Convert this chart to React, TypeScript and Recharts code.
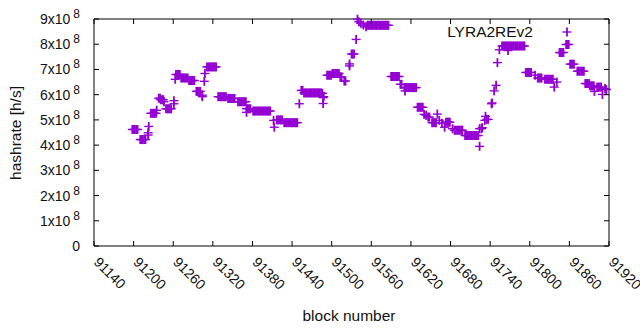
import { ReferenceArea, Scatter, ScatterChart, XAxis, YAxis } from 'recharts'

const SERIES = 'LYRA2REv2'
const COLOR = '#9400d3'

// block numbers and hashrate (in units of 10^8 h/s)
const blocks = [
  91198, 91200, 91202, 91204, 91206, 91210, 91212, 91214, 91216, 91218, 91222, 91222, 91223,
  91226, 91228, 91230, 91232, 91234, 91235, 91238, 91240, 91241, 91243, 91245, 91246,
  91249, 91251, 91253, 91255, 91257, 91261, 91261, 91263, 91264, 91266, 91268, 91270,
  91272, 91274, 91276, 91278, 91280, 91282, 91284, 91286, 91288, 91290, 91292,
  91295, 91297, 91299, 91301, 91304, 91304, 91307, 91308,
  91311, 91313, 91315, 91317, 91319, 91321, 91323, 91325,
  91328, 91330, 91332, 91334, 91336, 91338, 91340,
  91343, 91345, 91347, 91349, 91351, 91353,
  91358, 91360, 91362, 91364, 91366, 91368, 91370,
  91371, 91371, 91373, 91375, 91377,
  91381, 91383, 91385, 91387, 91389, 91391, 91393, 91395, 91397, 91399, 91401, 91403, 91405, 91407,
  91412, 91413, 91417, 91419, 91421, 91423, 91425,
  91428, 91430, 91432, 91434, 91436, 91438, 91440, 91442, 91444, 91446, 91448,
  91451, 91454, 91456,
  91458, 91460, 91462, 91464, 91466, 91468, 91470, 91472, 91474, 91476, 91478, 91480, 91482, 91484,
  91486, 91487, 91487, 91488,
  91493, 91495, 91497, 91499, 91501, 91503, 91505, 91507, 91509, 91511,
  91513, 91515, 91519, 91521, 91527, 91527, 91530, 91532, 91534, 91537,
  91539, 91541, 91544, 91548, 91552,
  91554, 91556, 91558, 91560, 91562, 91564, 91566, 91568, 91570, 91572, 91574, 91576, 91578, 91580, 91582, 91584, 91586,
  91590, 91592, 91594, 91596, 91598, 91600, 91602,
  91604, 91606, 91611,
  91610, 91612, 91614, 91616, 91618, 91620, 91622, 91624, 91626, 91628,
  91630, 91632, 91634, 91636, 91638,
  91640, 91643, 91646, 91648,
  91652, 91654, 91656, 91658, 91660, 91663, 91667, 91671,
  91673, 91675, 91677, 91679, 91683,
  91686, 91688, 91690, 91692, 91694, 91696, 91698,
  91702, 91704, 91706, 91708, 91710, 91712, 91714, 91716, 91718, 91720, 91722,
  91724, 91724, 91727, 91728, 91732, 91733, 91735, 91737,
  91742, 91743, 91746, 91749, 91751, 91754,
  91758, 91760, 91762, 91764, 91766, 91768, 91770, 91772, 91774, 91776, 91778, 91780, 91782, 91784, 91786, 91788, 91790, 91792,
  91767,
  91794, 91796, 91798, 91800, 91802, 91808,
  91812, 91814, 91816, 91818, 91823, 91825, 91827, 91829, 91831, 91833, 91835, 91837, 91841,
  91845, 91847, 91849, 91851, 91855, 91857, 91859,
  91861, 91863, 91865, 91867, 91872, 91874, 91876, 91878, 91880, 91882,
  91884, 91886, 91888, 91890, 91891, 91893, 91895, 91897, 91898,
  91902, 91904, 91906, 91908, 91910, 91914, 91916,
]

const rates = [
  4.62, 4.62, 4.62, 4.62, 4.62, 4.22, 4.22, 4.22, 4.22, 4.22, 4.49, 4.40, 4.74,
  5.26, 5.26, 5.26, 5.26, 5.26, 5.38, 5.86, 5.86, 5.80, 5.80, 5.80, 5.72,
  5.44, 5.44, 5.44, 5.44, 5.44, 5.76, 5.64, 6.61, 6.80, 6.80, 6.80, 6.80,
  6.66, 6.66, 6.66, 6.66, 6.66, 6.66, 6.56, 6.56, 6.56, 6.56, 6.56,
  6.13, 6.13, 6.13, 6.13, 5.92, 5.98, 6.53, 6.84,
  7.10, 7.10, 7.10, 7.10, 7.10, 7.10, 7.10, 7.10,
  5.92, 5.92, 5.92, 5.92, 5.92, 5.92, 5.92,
  5.85, 5.85, 5.85, 5.85, 5.85, 5.85,
  5.72, 5.72, 5.72, 5.72, 5.72, 5.72, 5.72,
  5.45, 5.30, 5.44, 5.44, 5.44,
  5.35, 5.35, 5.35, 5.35, 5.35, 5.35, 5.35, 5.35, 5.35, 5.35, 5.35, 5.35, 5.35, 5.35,
  4.98, 4.71, 5.00, 5.00, 5.00, 5.00, 5.00,
  4.89, 4.89, 4.89, 4.89, 4.89, 4.89, 4.89, 4.89, 4.89, 4.89, 4.89,
  5.64, 6.17, 6.17,
  6.07, 6.07, 6.07, 6.07, 6.07, 6.07, 6.07, 6.07, 6.07, 6.07, 6.07, 6.07, 6.07, 6.07,
  6.05, 5.88, 5.65, 5.92,
  6.77, 6.77, 6.77, 6.77, 6.84, 6.84, 6.84, 6.84, 6.84, 6.84,
  6.70, 6.70, 6.54, 6.54, 7.14, 7.22, 7.61, 7.61, 7.61, 8.19,
  8.99, 8.89, 8.83, 8.76, 8.69,
  8.75, 8.75, 8.75, 8.75, 8.75, 8.75, 8.75, 8.75, 8.75, 8.75, 8.75, 8.75, 8.75, 8.75, 8.75, 8.75, 8.75,
  6.72, 6.72, 6.72, 6.72, 6.72, 6.72, 6.72,
  6.41, 6.41, 6.15,
  6.28, 6.28, 6.28, 6.28, 6.28, 6.28, 6.28, 6.28, 6.28, 6.28,
  5.50, 5.50, 5.50, 5.50, 5.50,
  5.22, 5.18, 5.11, 5.11,
  4.89, 4.89, 4.89, 4.89, 5.23, 4.98, 4.87, 4.71,
  4.91, 4.91, 4.91, 4.91, 4.65,
  4.59, 4.59, 4.59, 4.59, 4.59, 4.59, 4.59,
  4.38, 4.38, 4.38, 4.38, 4.38, 4.38, 4.38, 4.38, 4.38, 4.38, 4.38,
  3.95, 4.65, 4.65, 4.69, 4.98, 5.14, 5.02, 5.02,
  5.64, 5.67, 6.15, 6.37, 7.27, 7.78,
  7.93, 7.93, 7.93, 7.93, 7.93, 7.93, 7.93, 7.93, 7.93, 7.93, 7.93, 7.93, 7.93, 7.93, 7.93, 7.93, 7.93, 7.93,
  7.75,
  6.88, 6.88, 6.88, 6.88, 6.88, 6.77,
  6.66, 6.66, 6.66, 6.66, 6.61, 6.61, 6.61, 6.61, 6.61, 6.61, 6.61, 6.30, 6.50,
  7.67, 7.67, 7.67, 7.67, 7.99, 7.99, 7.99,
  7.21, 7.21, 7.21, 7.21, 6.93, 6.93, 6.93, 6.93, 6.93, 6.93,
  6.44, 6.44, 6.44, 6.44, 6.35, 6.35, 6.35, 6.35, 6.13,
  6.30, 6.30, 6.30, 6.30, 6.01, 6.24, 6.20,
]

const xTicks = [91140, 91200, 91260, 91320, 91380, 91440, 91500, 91560, 91620, 91680, 91740, 91800, 91860, 91920]
const yTicks = [0, 1, 2, 3, 4, 5, 6, 7, 8, 9]

const data = blocks.map((b, i) => ({ block: b, rate: rates[i] }))

// plot box edges (px)
const LEFT = 94
const RIGHT = 609
const TOP = 19
const BOTTOM = 246
const TICK = 5
const FONT = '"Liberation Sans", Arial, sans-serif'

function PlusMark({ cx, cy }: any) {
  if (cx == null || cy == null) return null
  return (
    <g stroke={COLOR}>
      <line x1={cx - 4.5} x2={cx + 4.5} y1={cy} y2={cy} strokeWidth={1.4} />
      <line x1={cx} x2={cx} y1={cy - 4.5} y2={cy + 4.5} strokeWidth={1.8} />
    </g>
  )
}

function XTick({ x, payload }: any) {
  return (
    <g>
      <line x1={x} x2={x} y1={BOTTOM} y2={BOTTOM - TICK} stroke="#000" />
      <line x1={x} x2={x} y1={TOP} y2={TOP + TICK} stroke="#000" />
      <text
        transform={`translate(${x - 1},${BOTTOM + 17}) rotate(45)`}
        fontSize={14}
        fontFamily={FONT}
        fill="#111"
        textAnchor="start"
      >
        {payload.value}
      </text>
    </g>
  )
}

function YTick({ y, payload }: any) {
  const v = payload.value
  return (
    <g>
      <line x1={LEFT} x2={LEFT + TICK} y1={y} y2={y} stroke="#000" />
      <line x1={RIGHT} x2={RIGHT - TICK} y1={y} y2={y} stroke="#000" />
      <text x={80} y={y + 5} textAnchor="end" fontSize={14} fontFamily={FONT} fill="#111">
        {v === 0 ? (
          '0'
        ) : (
          <>
            {v}x10
            <tspan dx={3} dy={-6} fontSize={12}>
              8
            </tspan>
          </>
        )}
      </text>
    </g>
  )
}

export default function App() {
  return (
    <div style={{ position: 'absolute', left: 0, top: 0, width: 640, height: 330, background: '#fff' }}>
      <ScatterChart width={640} height={330} margin={{ top: TOP, right: 640 - RIGHT, bottom: 0, left: 0 }}>
        <XAxis
          type="number"
          dataKey="block"
          domain={[91140, 91920]}
          ticks={xTicks}
          interval={0}
          height={330 - BOTTOM}
          axisLine={false}
          tickLine={false}
          tick={<XTick />}
        />
        <YAxis
          type="number"
          dataKey="rate"
          domain={[0, 9]}
          ticks={yTicks}
          interval={0}
          width={LEFT}
          axisLine={false}
          tickLine={false}
          tick={<YTick />}
        />
        <ReferenceArea x1={91140} x2={91920} y1={0} y2={9} fill="none" stroke="#000" strokeWidth={1} />
        <Scatter name={SERIES} data={data} shape={<PlusMark />} isAnimationActive={false} />
        <text x={533} y={37} textAnchor="end" fontSize={15.5} fontFamily={FONT} fill="#111">
          {SERIES}
        </text>
        <PlusMark cx={567} cy={32} />
        <text x={349} y={321} textAnchor="middle" fontSize={15.5} fontFamily={FONT} fill="#111">
          block number
        </text>
        <text
          transform="translate(21,133) rotate(-90)"
          textAnchor="middle"
          fontSize={15.5}
          fontFamily={FONT}
          fill="#111"
        >
          hashrate [h/s]
        </text>
      </ScatterChart>
    </div>
  )
}
